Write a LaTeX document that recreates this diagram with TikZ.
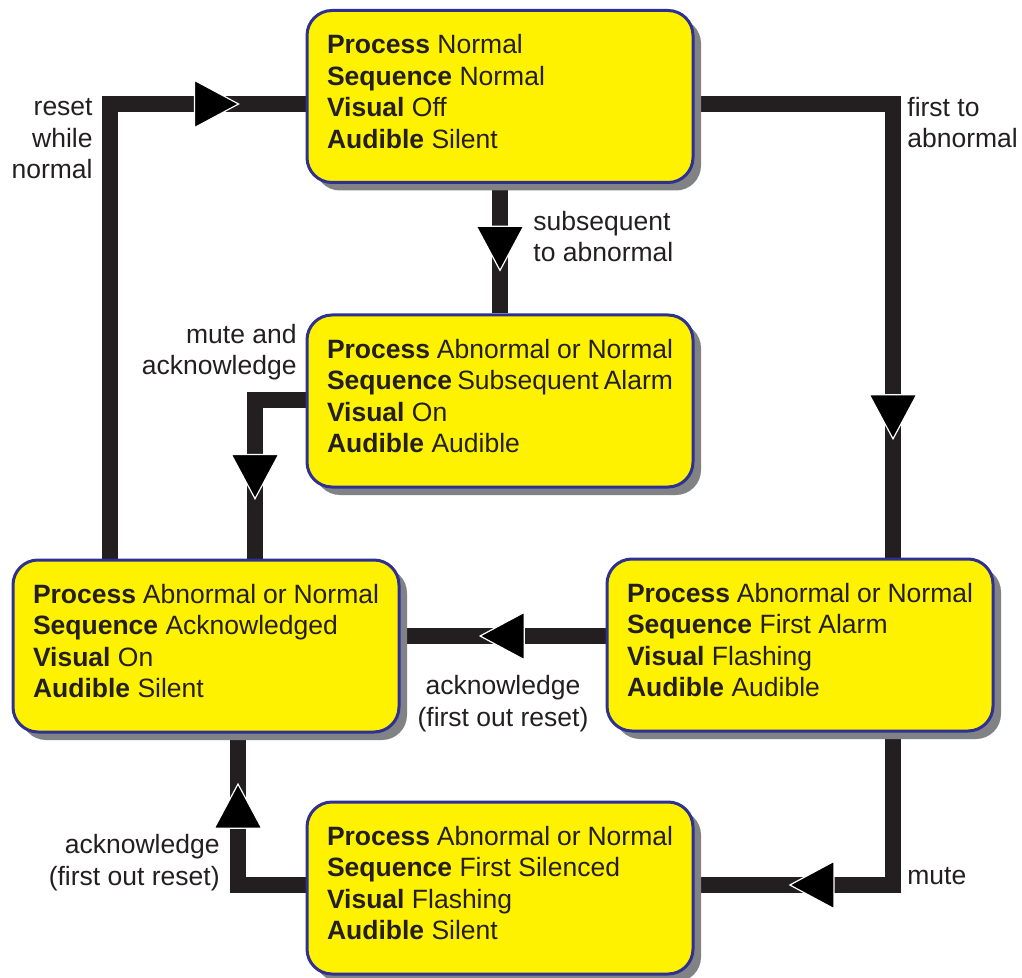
\documentclass[tikz,border=0pt]{standalone}
\usepackage{fontspec}
\setmainfont{Liberation Sans}
\usetikzlibrary{arrows.meta,shadows,decorations.markings}

\definecolor{alarmyellow}{RGB}{255,242,0}
\definecolor{alarmblue}{RGB}{46,49,146}
\definecolor{alarmgrey}{RGB}{128,130,133}
\definecolor{alarmline}{RGB}{35,31,32}

\newcommand{\alarmstate}[4]{\parbox[c][62pt][t]{173pt}{\textbf{Process} #1\\\textbf{Sequence} #2\\\textbf{Visual} #3\\\textbf{Audible} #4}}

\pgfdeclarelayer{background}
\pgfsetlayers{background,main}

\tikzset{
  statebox/.style={draw=alarmblue, line width=1.5pt, fill=alarmyellow, rounded corners=12.5pt,
    minimum width=193pt, minimum height=86pt, inner sep=0pt, text=alarmline,
    drop shadow={shadow xshift=4pt, shadow yshift=-4pt, opacity=1, fill=alarmgrey}},
  wire/.style={draw=alarmline, line width=8pt},
  headtri/.tip={Triangle[length=23pt 0, width=24.5pt 0, fill=black, color=white, line width=0.6pt 0]},
  tipat/.style={postaction={decorate}, decoration={markings, mark=at position #1 with {\arrow{headtri}}}},
  lbl/.style={inner sep=0pt, text=alarmline}
}

\begin{document}
\begin{tikzpicture}[x=0.5pt, y=-0.5pt, font=\fontsize{13.25pt}{15.75pt}\selectfont]
\useasboundingbox (0,0) rectangle (1022,978);

% states
\node[statebox] (normal) at (500,96.5) {\alarmstate{Normal}{Normal}{Off}{Silent}};
\node[statebox] (subseq) at (500,401) {\alarmstate{Abnormal or Normal}{Subsequent Alarm}{On}{Audible}};
\node[statebox] (acked) at (206,646) {\alarmstate{Abnormal or Normal}{Acknowledged}{On}{Silent}};
\node[statebox] (first) at (800,645) {\alarmstate{Abnormal or Normal}{First Alarm}{Flashing}{Audible}};
\node[statebox] (silenced) at (500,888) {\alarmstate{Abnormal or Normal}{First Silenced}{Flashing}{Silent}};

% bends of the wires
\coordinate (resetbend) at (110,104);
\coordinate (firstbend) at (893,104);
\coordinate (mutebend) at (255,400);
\coordinate (ackmid) at (500,636);
\coordinate (silbend) at (893,885);
\coordinate (ackbend) at (238,885);

\begin{pgfonlayer}{background}
\draw[wire, tipat=0.899] (acked.north -| resetbend) -- (resetbend) -- (normal.west |- resetbend);
\draw[wire, tipat=0.82] (normal.east |- firstbend) -- (firstbend) -- (first.north -| firstbend);
\draw[wire, tipat=0.677] (normal.south) -- (subseq.north -| normal.south);
\draw[wire, tipat=0.72] (subseq.west |- mutebend) -- (mutebend) -- (acked.north -| mutebend);
\draw[wire, tipat=0.618] (first.west |- ackmid) -- (acked.east |- ackmid);
\draw[wire, tipat=0.732] (first.south -| silbend) -- (silbend) -- (silenced.east |- silbend);
\draw[wire, tipat=0.775] (silenced.west |- ackbend) -- (ackbend) -- (acked.south -| ackbend);
\end{pgfonlayer}

% labels
\node[lbl, align=right, anchor=base east] (resetlbl) at (93,179) {reset\\while\\normal};
\node[lbl, align=left, anchor=base west] (firstlbl) at (907,148) {first to\\abnormal};
\node[lbl, align=left, anchor=base west] (subseqlbl) at (533,262) {subsequent\\to abnormal};
\node[lbl, align=right, anchor=base east] (mutacklbl) at (297,375) {mute and\\acknowledge};
\node[lbl, align=center, anchor=base] (acklbl) at (503,726) {acknowledge\\(first out reset)};
\node[lbl, align=right, anchor=base east] (silacklbl) at (220,885) {acknowledge\\(first out reset)};
\node[lbl, anchor=base west] (mutelbl) at (907,884) {mute};

\end{tikzpicture}
\end{document}
